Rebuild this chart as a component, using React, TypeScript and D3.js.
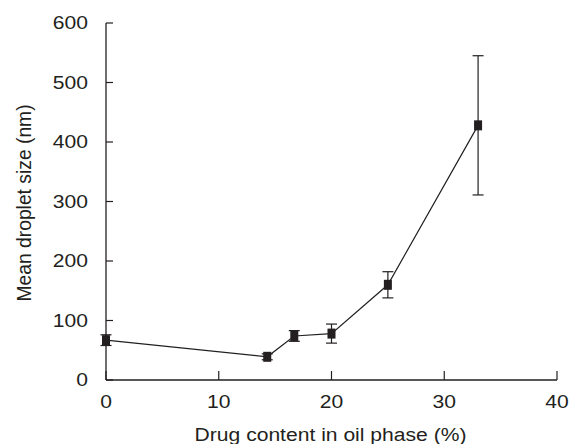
import * as d3 from "d3";

const drugContent = [0, 14.3, 16.7, 20, 25, 33.0];
const meanSize = [67, 39, 74, 78, 160, 428];
const sizeError = [9, 5, 9, 16, 22, 117];
const xTicks = [0, 10, 20, 30, 40];
const yTicks = [0, 100, 200, 300, 400, 500, 600];

const INK = "#231f20";
const FONT = "'Liberation Sans', Arial, Helvetica, sans-serif";
// the reference lettering is a bit wider than plain Arial
const STRETCH = 1.14;

export default function App() {
  const width = 571;
  const height = 444;

  const x = d3.scaleLinear().domain([0, 40]).range([106, 557]);
  const y = d3.scaleLinear().domain([0, 600]).range([380, 23]);

  const points = drugContent.map((d, i) => ({ x: d, y: meanSize[i], err: sizeError[i] }));
  const line = d3
    .line<{ x: number; y: number }>()
    .x((d) => x(d.x))
    .y((d) => y(d.y));

  return (
    <svg
      width={width}
      height={height}
      style={{ position: "absolute", left: 0, top: 0, background: "#fff" }}
      fontFamily={FONT}
    >
      {/* axes */}
      <line x1={x(0)} x2={x(0)} y1={y(600)} y2={y(0)} stroke={INK} strokeWidth={1.3} />
      <line x1={x(0)} x2={x(40)} y1={y(0)} y2={y(0)} stroke={INK} strokeWidth={1.3} />
      {yTicks.map((t) => (
        <g key={"y" + t}>
          <line x1={x(0)} x2={x(0) + 7} y1={y(t)} y2={y(t)} stroke={INK} strokeWidth={1.2} />
          <text
            transform={`translate(88,${y(t)}) scale(${STRETCH},1)`}
            dy="0.35em"
            textAnchor="end"
            fontSize={18.5}
            fill={INK}
          >
            {t}
          </text>
        </g>
      ))}
      {xTicks.map((t) => (
        <g key={"x" + t}>
          <line x1={x(t)} x2={x(t)} y1={y(0)} y2={y(0) - 9} stroke={INK} strokeWidth={1.2} />
          <text
            transform={`translate(${x(t)},408) scale(${STRETCH},1)`}
            textAnchor="middle"
            fontSize={18.5}
            fill={INK}
          >
            {t}
          </text>
        </g>
      ))}
      <text
        transform={`translate(31,203) rotate(-90)`}
        textAnchor="middle"
        fontSize={19.3}
        fill={INK}
      >
        Mean droplet size (nm)
      </text>
      <text
        transform={`translate(${(x(0) + x(40)) / 2 - 1},441) scale(1.11,1)`}
        textAnchor="middle"
        fontSize={19}
        fill={INK}
      >
        Drug content in oil phase (%)
      </text>

      {/* data line */}
      <path d={line(points) ?? ""} fill="none" stroke={INK} strokeWidth={1.2} />

      {/* error bars */}
      {points.map((p, i) => (
        <g key={"e" + i} stroke={INK} strokeWidth={1.2}>
          <line x1={x(p.x)} x2={x(p.x)} y1={y(p.y + p.err)} y2={y(p.y - p.err)} />
          <line x1={x(p.x) - 5.5} x2={x(p.x) + 5.5} y1={y(p.y + p.err)} y2={y(p.y + p.err)} />
          <line x1={x(p.x) - 5.5} x2={x(p.x) + 5.5} y1={y(p.y - p.err)} y2={y(p.y - p.err)} />
        </g>
      ))}

      {/* markers */}
      {points.map((p, i) => (
        <rect key={"m" + i} x={x(p.x) - 4} y={y(p.y) - 5} width={8} height={10} fill={INK} />
      ))}
    </svg>
  );
}
